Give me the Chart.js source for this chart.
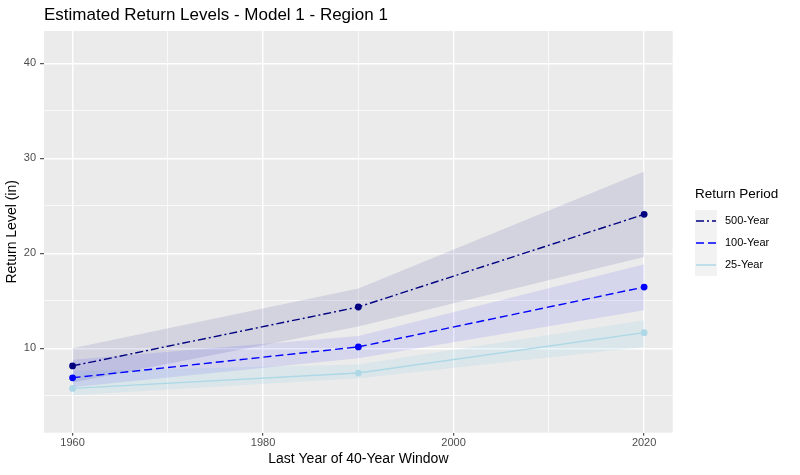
<!DOCTYPE html>
<html>
<head>
<meta charset="utf-8">
<title>Estimated Return Levels</title>
<script src="https://cdn.jsdelivr.net/npm/chart.js@4.4.1/dist/chart.umd.min.js"></script>
<style>
  html, body { margin: 0; padding: 0; background: #fff; }
  #wrap { width: 800px; height: 475px; position: relative; }
</style>
</head>
<body>
<div id="wrap"><canvas id="rl-chart"></canvas></div>
<script>
// window end years and estimated return levels (inches)
const years = [1960, 1990, 2020];

const rl500 = [8.15, 14.35, 24.1];
const rl500Lo = [6.4, 12.3, 19.6];
const rl500Hi = [10.0, 16.3, 28.6];

const rl100 = [6.9, 10.15, 16.45];
const rl100Lo = [5.9, 8.95, 14.0];
const rl100Hi = [8.8, 11.3, 18.85];

const rl25 = [5.78, 7.4, 11.65];
const rl25Lo = [5.05, 6.85, 10.15];
const rl25Hi = [7.6, 8.3, 12.95];

const xTicks = [1960, 1970, 1980, 1990, 2000, 2010, 2020];
const xLabels = [1960, 1980, 2000, 2020];
const yTicks = [5, 10, 15, 20, 25, 30, 35, 40];
const yLabels = [10, 20, 30, 40];

const FONT = '"Liberation Sans", Arial, Helvetica, sans-serif';

const pts = (arr) => years.map((x, i) => ({ x: x, y: arr[i] }));

function lineSet(label, values, color, dash) {
  return {
    label: label,
    data: pts(values),
    borderColor: color,
    backgroundColor: color,
    borderWidth: 1.4,
    borderDash: dash,
    pointRadius: 3.4,
    pointBorderWidth: 0,
    pointBackgroundColor: color,
    fill: false,
    tension: 0,
  };
}

function bandSet(values, fillColor, fillTo) {
  return {
    data: pts(values),
    borderWidth: 0,
    borderColor: "rgba(0,0,0,0)",
    pointRadius: 0,
    backgroundColor: fillColor,
    fill: fillTo,
    tension: 0,
  };
}

// grey panel behind the grid, like ggplot
const panelBg = {
  id: "panelBg",
  beforeDraw(chart) {
    const { ctx, chartArea: a } = chart;
    ctx.save();
    ctx.fillStyle = "#EBEBEB";
    ctx.fillRect(a.left, a.top, a.right - a.left, a.bottom - a.top);
    ctx.restore();
  },
};

// ggplot style legend on the right
const sideLegend = {
  id: "sideLegend",
  afterDraw(chart) {
    const ctx = chart.ctx;
    const x0 = chart.chartArea.right + 22.3;
    const top = 210;
    const keyW = 22, keyH = 22;
    ctx.save();
    ctx.fillStyle = "#000";
    ctx.font = "13.5px " + FONT;
    ctx.textBaseline = "alphabetic";
    ctx.textAlign = "left";
    ctx.fillText("Return Period", x0, 198);

    ctx.fillStyle = "#F2F2F2";
    ctx.fillRect(x0, top, keyW, keyH * 3);

    [0, 1, 2].forEach((i) => {
      const ds = chart.data.datasets[i];
      const cy = top + keyH * i + keyH / 2;
      ctx.beginPath();
      ctx.setLineDash(ds.borderDash || []);
      ctx.strokeStyle = ds.borderColor;
      ctx.lineWidth = 1.5;
      ctx.moveTo(x0 + 1, cy);
      ctx.lineTo(x0 + keyW - 1, cy);
      ctx.stroke();
      ctx.setLineDash([]);
      ctx.fillStyle = "#000";
      ctx.font = "11px " + FONT;
      ctx.textBaseline = "middle";
      ctx.fillText(ds.label, x0 + 30, cy);
    });
    ctx.restore();
  },
};

const isMajorX = (v) => xLabels.includes(v);
const isMajorY = (v) => yLabels.includes(v);

new Chart(document.getElementById("rl-chart"), {
  type: "line",
  data: {
    datasets: [
      lineSet("500-Year", rl500, "#000080", [8, 3, 2, 3]),
      lineSet("100-Year", rl100, "#0000FF", [8, 4]),
      lineSet("25-Year", rl25, "#ADD8E6", []),
      bandSet(rl500Hi, "rgba(0,0,128,0.1)", "+1"),
      bandSet(rl500Lo, "rgba(0,0,0,0)", false),
      bandSet(rl100Hi, "rgba(0,0,255,0.09)", "+1"),
      bandSet(rl100Lo, "rgba(0,0,0,0)", false),
      bandSet(rl25Hi, "rgba(173,216,230,0.25)", "+1"),
      bandSet(rl25Lo, "rgba(0,0,0,0)", false),
    ],
  },
  options: {
    responsive: true,
    maintainAspectRatio: false,
    animation: false,
    events: [],
    layout: { padding: { left: 0, right: 127.3, top: 0, bottom: 0 } },
    plugins: {
      legend: { display: false },
      tooltip: { enabled: false },
      title: {
        display: true,
        text: "Estimated Return Levels - Model 1 - Region 1",
        align: "start",
        fullSize: false,
        color: "#000",
        font: { family: FONT, size: 17, weight: "normal", lineHeight: 1.2 },
        padding: { top: 4.8, bottom: 5.8 },
      },
    },
    scales: {
      x: {
        type: "linear",
        min: 1957,
        max: 2023,
        afterBuildTicks: (scale) => {
          scale.ticks = xTicks.map((v) => ({ value: v }));
        },
        afterFit: (scale) => {
          scale.height = 42.3;
        },
        border: { display: false },
        grid: {
          color: "#FFFFFF",
          lineWidth: (c) => (isMajorX(c.tick.value) ? 1.4 : 0.7),
          tickColor: (c) => (isMajorX(c.tick.value) ? "#333333" : "rgba(0,0,0,0)"),
          tickLength: 3,
          tickWidth: 1,
        },
        ticks: {
          autoSkip: false,
          maxRotation: 0,
          padding: 1,
          color: "#4D4D4D",
          font: { family: FONT, size: 11 },
          callback: (v) => (isMajorX(v) ? String(v) : ""),
        },
        title: {
          display: true,
          text: "Last Year of 40-Year Window",
          color: "#000",
          font: { family: FONT, size: 14 },
          padding: { top: 0, bottom: 7 },
        },
      },
      y: {
        type: "linear",
        min: 1.12,
        max: 43.4,
        afterBuildTicks: (scale) => {
          scale.ticks = yTicks.map((v) => ({ value: v }));
        },
        afterFit: (scale) => {
          scale.width = 44;
        },
        border: { display: false },
        grid: {
          color: "#FFFFFF",
          lineWidth: (c) => (isMajorY(c.tick.value) ? 1.4 : 0.7),
          tickColor: (c) => (isMajorY(c.tick.value) ? "#333333" : "rgba(0,0,0,0)"),
          tickLength: 4,
          tickWidth: 1,
        },
        ticks: {
          autoSkip: false,
          padding: 4,
          color: "#4D4D4D",
          font: { family: FONT, size: 11 },
          callback: (v) => (isMajorY(v) ? String(v) : ""),
        },
        title: {
          display: true,
          text: "Return Level (in)",
          color: "#000",
          font: { family: FONT, size: 14 },
          padding: { top: 3.6, bottom: 0 },
        },
      },
    },
  },
  plugins: [panelBg, sideLegend],
});
</script>
</body>
</html>
